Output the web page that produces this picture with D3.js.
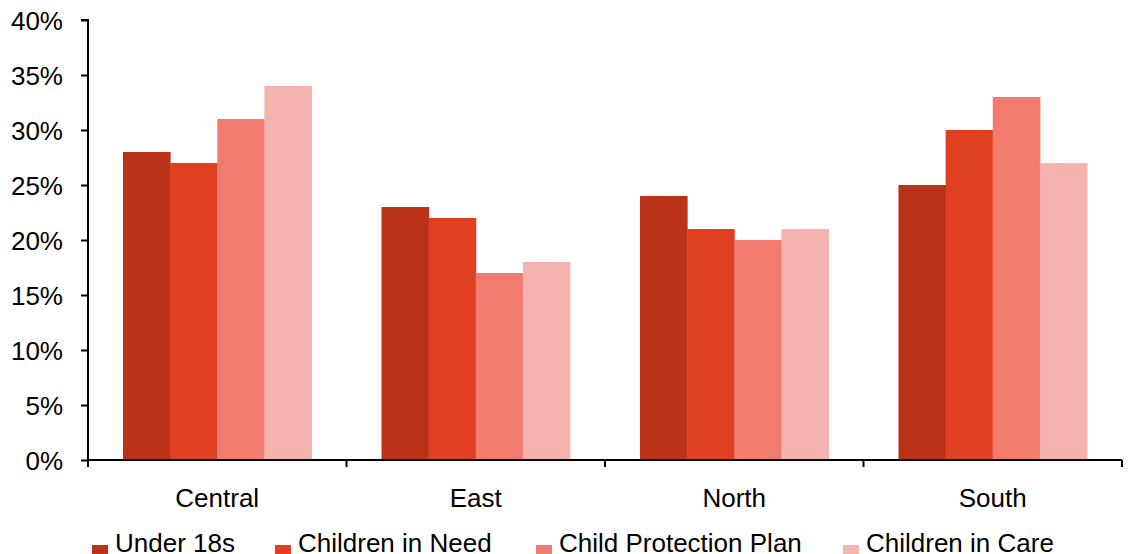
<!DOCTYPE html>
<html><head><meta charset="utf-8">
<script src="https://cdn.jsdelivr.net/npm/d3@7"></script>
<style>body{margin:0;background:#fff}svg{display:block}text{font-family:"Liberation Sans",Arial,sans-serif;fill:#000}</style>
</head><body><svg id="c" width="1128" height="554"></svg>
<script>
const categories = ["Central","East","North","South"];
const seriesNames = ["Under 18s","Children in Need","Child Protection Plan","Children in Care"];
const under18 = [28,23,24,25];
const inNeed = [27,22,21,30];
const protectionPlan = [31,17,20,33];
const inCare = [34,18,21,27];
const colors = ["#BA3318","#E04022","#F27B70","#F5B4B0"];
const yTicks = [0,5,10,15,20,25,30,35,40];

const series = [under18,inNeed,protectionPlan,inCare];
const svg = d3.select("#c");
const L=88,R=1122,T=20,B=460;
const FS = "26px";
const x = d3.scaleBand().domain(categories).range([L,R]).paddingInner(0).paddingOuter(0);
const x1 = d3.scaleBand().domain(d3.range(4)).range([35, x.bandwidth()-35]).padding(0);
const y = d3.scaleLinear().domain([0,40]).range([B,T]);

const g = svg.append("g");
categories.forEach((c,i)=>{
  series.forEach((s,j)=>{
    g.append("rect").attr("x",x(c)+x1(j)).attr("width",x1.bandwidth()+0.5)
     .attr("y",y(s[i])).attr("height",B-y(s[i])).attr("fill",colors[j]);
  });
});

const ya = svg.append("g").attr("transform",`translate(${L},0)`)
  .call(d3.axisLeft(y).tickValues(yTicks).tickFormat(d=>d+"%").tickSize(7).tickPadding(18));
ya.select(".domain").attr("stroke","#000").attr("stroke-width",2).attr("d",`M-7,${T}H0V${B}`);
ya.selectAll(".tick line").attr("stroke","#000").attr("stroke-width",2);
ya.selectAll("text").style("font-size",FS).attr("dy","0.35em");

const xa = svg.append("g").attr("transform",`translate(0,${B})`);
xa.append("line").attr("x1",L).attr("x2",R).attr("y1",0).attr("y2",0).attr("stroke","#000").attr("stroke-width",2);
const bounds = categories.map(c=>x(c)).concat([R]);
bounds.forEach(b=>xa.append("line").attr("x1",b).attr("x2",b).attr("y1",0).attr("y2",7).attr("stroke","#000").attr("stroke-width",2));
categories.forEach(c=>xa.append("text").attr("x",x(c)+x.bandwidth()/2).attr("y",47).attr("text-anchor","middle").style("font-size",FS).text(c));

const legX = [92,275,536,843];
const lg = svg.append("g");
seriesNames.forEach((n,j)=>{
  lg.append("rect").attr("x",legX[j]).attr("y",545).attr("width",16).attr("height",16).attr("fill",colors[j]);
  lg.append("text").attr("x",legX[j]+23).attr("y",552).style("font-size",FS).text(n);
});
</script></body></html>
